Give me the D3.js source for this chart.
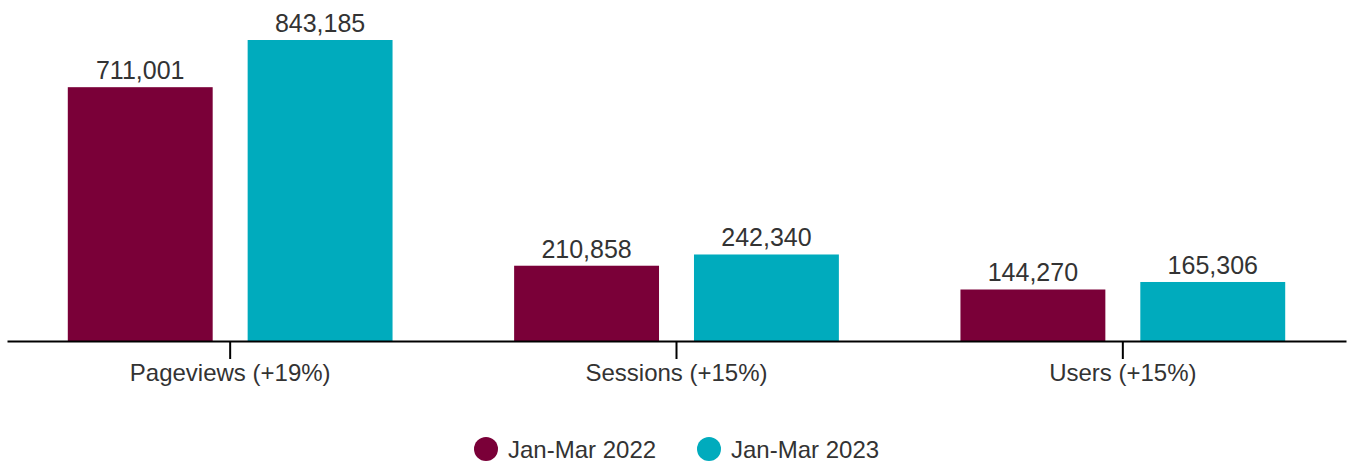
<!DOCTYPE html>
<html><head><meta charset="utf-8">
<script src="https://cdn.jsdelivr.net/npm/d3@7"></script>
<style>body{margin:0;background:#fff}svg{display:block}text{font-family:"Liberation Sans",Arial,sans-serif;fill:#333}</style>
</head><body><svg id="c" width="1351" height="461"></svg>
<script>
const categories = ["Pageviews (+19%)", "Sessions (+15%)", "Users (+15%)"];
const seriesNames = ["Jan-Mar 2022", "Jan-Mar 2023"];
const values2022 = [711001, 210858, 144270];
const values2023 = [843185, 242340, 165306];
const colors = ["#7a0038", "#00abbd"];

const svg = d3.select("#c");
const baseY = 341;
const x0 = d3.scaleBand().domain(categories).range([7, 1346]).paddingInner(0).paddingOuter(0);
const x1 = d3.scaleBand().domain(seriesNames).range([0, x0.bandwidth()]).paddingInner(0.1944).paddingOuter(0.338);
const y = d3.scaleLinear().domain([0, 843185]).range([baseY, 40]);
const fmt = d3.format(",");

const data = categories.map((c, i) => ({cat: c, vals: [values2022[i], values2023[i]]}));
const g = svg.selectAll("g.cat").data(data).join("g").attr("class","cat")
  .attr("transform", d => `translate(${x0(d.cat)},0)`);
g.selectAll("rect").data(d => d.vals.map((v, j) => ({v, s: seriesNames[j], j})))
  .join("rect")
  .attr("x", d => x1(d.s)).attr("width", x1.bandwidth())
  .attr("y", d => y(d.v)).attr("height", d => baseY - y(d.v))
  .attr("fill", d => colors[d.j]);
g.selectAll("text.v").data(d => d.vals.map((v, j) => ({v, s: seriesNames[j]})))
  .join("text").attr("class","v")
  .attr("x", d => x1(d.s) + x1.bandwidth()/2).attr("y", d => y(d.v) - 8)
  .attr("text-anchor","middle").style("font-size","25px").text(d => fmt(d.v));

const ax = svg.append("g").attr("transform", `translate(0,${baseY})`)
  .call(d3.axisBottom(x0).tickSize(18).tickPadding(5).tickSizeOuter(0));
ax.select(".domain").attr("stroke","#000").attr("stroke-width",2);
ax.selectAll(".tick line").attr("stroke","#000").attr("stroke-width",2);
ax.selectAll(".tick text").style("font-size","24px").attr("fill","#333")
  .style("font-family",'"Liberation Sans",Arial,sans-serif');

const leg = svg.append("g");
const legX = [486, 709];
seriesNames.forEach((s, i) => {
  leg.append("circle").attr("cx", legX[i]).attr("cy", 449).attr("r", 12).attr("fill", colors[i]);
  leg.append("text").attr("x", legX[i] + 22).attr("y", 458).style("font-size","24px").text(s);
});
</script></body></html>
